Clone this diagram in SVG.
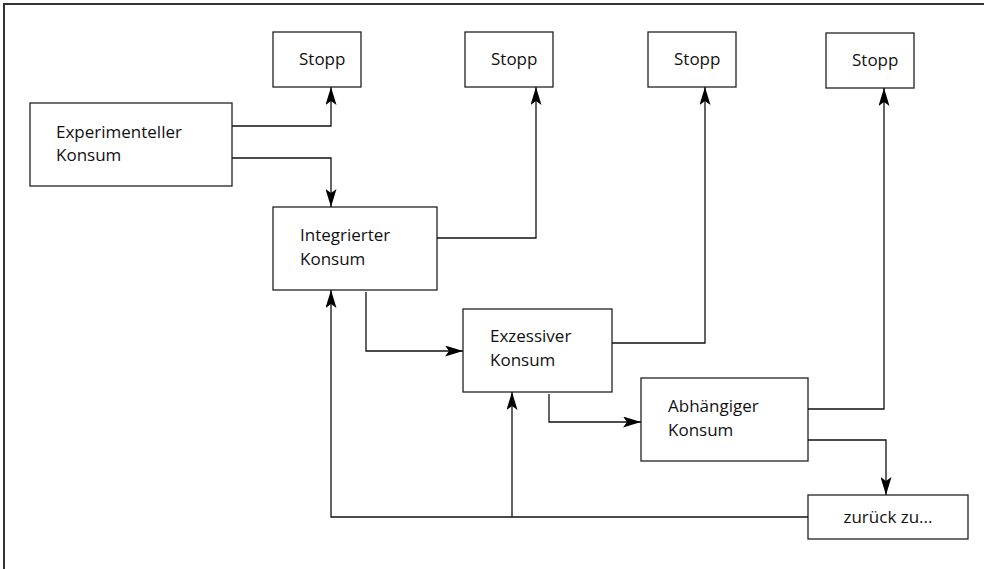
<svg xmlns="http://www.w3.org/2000/svg" width="984" height="569" viewBox="0 0 984 569">
<defs>
<style>
.box{fill:#fff;stroke:#222;stroke-width:1.3}
.lbl{font-family:"Open Sans","Liberation Sans",sans-serif;font-size:17px;fill:#111}
.c{fill:none;stroke:#111;stroke-width:1.3}
</style>
<marker id="ah" viewBox="0 0 18 11" refX="18" refY="5.5" markerWidth="18" markerHeight="11" markerUnits="userSpaceOnUse" orient="auto">
<path d="M0,0 L18,5.5 L0,11 L4,5.5 z" fill="#000"/>
</marker>
</defs>
<rect width="984" height="569" fill="#fff"/>
<path d="M4,569 V4 H984" fill="none" stroke="#333" stroke-width="2"/>
<g id="stopp1"><rect class="box" x="273" y="32" width="88" height="55"/><text class="lbl" x="299" y="65">Stopp</text></g>
<g id="stopp2"><rect class="box" x="465" y="32" width="88" height="55"/><text class="lbl" x="491" y="65">Stopp</text></g>
<g id="stopp3"><rect class="box" x="648" y="32" width="88" height="55"/><text class="lbl" x="674" y="65">Stopp</text></g>
<g id="stopp4"><rect class="box" x="826" y="33" width="88" height="55"/><text class="lbl" x="852" y="66">Stopp</text></g>
<g id="experimentell"><rect class="box" x="30" y="103" width="202" height="83"/><text class="lbl" x="56" y="138">Experimenteller</text><text class="lbl" x="56" y="161">Konsum</text></g>
<g id="integriert"><rect class="box" x="273" y="207" width="164" height="83"/><text class="lbl" x="300" y="241">Integrierter</text><text class="lbl" x="300" y="265">Konsum</text></g>
<g id="exzessiv"><rect class="box" x="463" y="309" width="149" height="83"/><text class="lbl" x="490" y="342">Exzessiver</text><text class="lbl" x="490" y="366">Konsum</text></g>
<g id="abhaengig"><rect class="box" x="641" y="378" width="167" height="83"/><text class="lbl" x="668" y="412">Abhängiger</text><text class="lbl" x="668" y="436">Konsum</text></g>
<g id="zurueck"><rect class="box" x="808" y="495" width="160" height="44"/><text class="lbl" x="888" y="523" text-anchor="middle">zurück zu...</text></g>
<g id="connectors">
<path class="c" d="M232,126 H331 V87" marker-end="url(#ah)"/>
<path class="c" d="M232,158 H331 V207" marker-end="url(#ah)"/>
<path class="c" d="M437,238 H536 V87" marker-end="url(#ah)"/>
<path class="c" d="M366,292 V351 H463" marker-end="url(#ah)"/>
<path class="c" d="M612,343 H705 V87" marker-end="url(#ah)"/>
<path class="c" d="M549,394 V422 H641" marker-end="url(#ah)"/>
<path class="c" d="M808,409 H884 V88" marker-end="url(#ah)"/>
<path class="c" d="M808,440 H886 V495" marker-end="url(#ah)"/>
<path class="c" d="M808,517 H331 V290" marker-end="url(#ah)"/>
<path class="c" d="M512,517 V392" marker-end="url(#ah)"/>
</g>
</svg>
